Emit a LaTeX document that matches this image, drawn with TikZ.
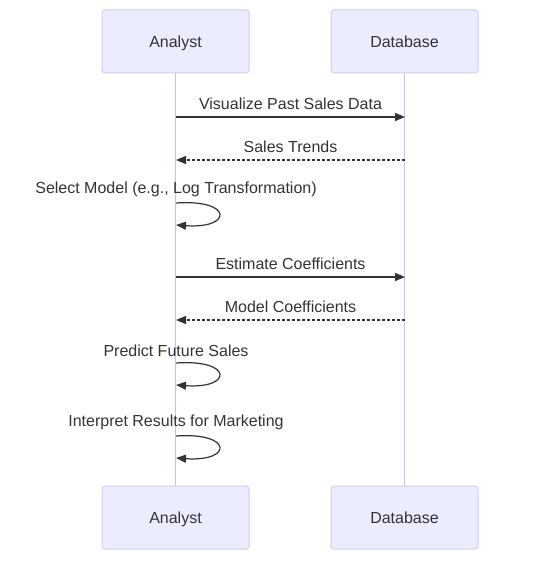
\documentclass[tikz,border=0pt]{standalone}
\usepackage{fontspec}
\setmainfont{Liberation Sans}
\usetikzlibrary{arrows.meta}
\definecolor{actorfill}{HTML}{ECECFF}
\definecolor{actorline}{HTML}{D4CCF2}
\definecolor{lifeline}{HTML}{CBBDF0}
\definecolor{ink}{HTML}{333333}
\begin{document}
\begin{tikzpicture}[x=1pt,y=-1pt,>={Triangle[length=10pt,width=8pt]},
    font=\fontsize{16}{19}\selectfont,text=ink,
    actor/.style={draw=actorline,fill=actorfill,rounded corners=3pt,
        minimum width=147pt,minimum height=63pt,line width=1pt,
        text height=11.5pt,text depth=0pt},
    life/.style={draw=lifeline,line width=1.5pt},
    msg/.style={draw=ink,line width=1.2pt,->},
    reply/.style={msg,dash pattern=on 3pt off 2pt},
    lbl/.style={midway,above=3pt}]
    \useasboundingbox (0,0) rectangle (536,569);

    % the actors, top and bottom
    \node[actor] (analystTop) at (175.5,41.5) {Analyst};
    \node[actor] (databaseTop) at (404.5,41.5) {Database};
    \node[actor] (analystBot) at (175.5,517.5) {Analyst};
    \node[actor] (databaseBot) at (404.5,517.5) {Database};

    % lifelines
    \draw[life] (analystTop) -- (analystBot);
    \draw[life] (databaseTop) -- (databaseBot);

    % points on the lifelines
    \coordinate (a1) at (176,117); \coordinate (d1) at (405,117);
    \coordinate (a2) at (176,160); \coordinate (d2) at (405,160);
    \coordinate (s1) at (176,203); \coordinate (s1e) at (176,225);
    \coordinate (a3) at (176,277); \coordinate (d3) at (405,277);
    \coordinate (a4) at (176,320); \coordinate (d4) at (405,320);
    \coordinate (s2) at (176,363); \coordinate (s2e) at (176,385);
    \coordinate (s3) at (176,436); \coordinate (s3e) at (176,458);

    % messages
    \draw[msg] (a1) -- node[lbl] {Visualize Past Sales Data} (d1);
    \draw[reply] (d2) -- node[lbl] {Sales Trends} (a2);
    \draw[msg] (s1) .. controls +(57,-4) and +(57,4) .. (s1e);
    \node[above=3pt] (t1) at (s1) {Select Model (e.g., Log Transformation)};
    \draw[msg] (a3) -- node[lbl] {Estimate Coefficients} (d3);
    \draw[reply] (d4) -- node[lbl] {Model Coefficients} (a4);
    \draw[msg] (s2) .. controls +(57,-4) and +(57,4) .. (s2e);
    \node[above=3pt] (t2) at (s2) {Predict Future Sales};
    \draw[msg] (s3) .. controls +(57,-4) and +(57,4) .. (s3e);
    \node[above=3pt] (t3) at (s3) {Interpret Results for Marketing};
\end{tikzpicture}
\end{document}
